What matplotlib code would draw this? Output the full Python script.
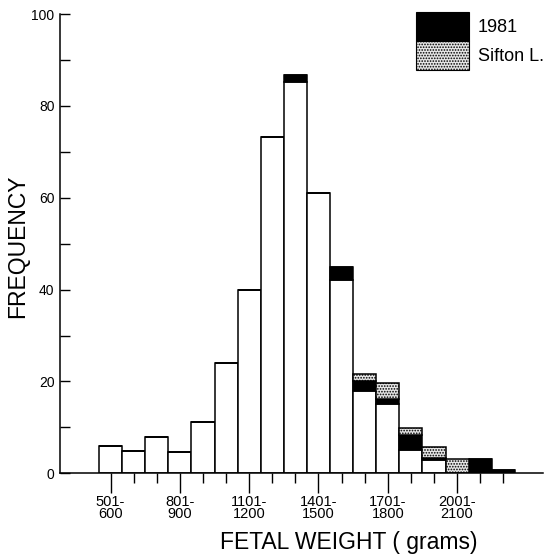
import numpy as np
import matplotlib.pyplot as plt
from matplotlib.patches import Patch

plt.rcParams['font.family'] = ['Liberation Sans', 'DejaVu Sans']
plt.rcParams['hatch.color'] = '#444444'
plt.rcParams['hatch.linewidth'] = 0.8

# weight classes (grams)
bins = ['501-600', '601-700', '701-800', '801-900', '901-1000', '1001-1100',
        '1101-1200', '1201-1300', '1301-1400', '1401-1500', '1501-1600',
        '1601-1700', '1701-1800', '1801-1900', '1901-2000', '2001-2100',
        '2101-2200', '2201-2300']
# stacked frequencies
base = [6, 4.8, 8, 4.6, 11.2, 24, 40, 73.3, 85.1, 61, 42, 18, 15, 5, 3, 0, 0, 0]
y1981 = [0, 0, 0, 0, 0, 0, 0, 0, 1.7, 0, 3, 2.1, 1.2, 3.3, 0.3, 0, 3.2, 0.8]
sifton = [0, 0, 0, 0, 0, 0, 0, 0, 0, 0, 0, 1.5, 3.5, 1.6, 2.5, 3.2, 0, 0]
labelled = ['501-600', '801-900', '1101-1200', '1401-1500', '1701-1800', '2001-2100']

base = np.array(base)
y1981 = np.array(y1981)
sifton = np.array(sifton)
x = np.arange(len(bins)) + 0.5

fig = plt.figure(figsize=(5.59, 5.56), dpi=100)
ax = fig.add_axes([60 / 559, 1 - 473.3 / 556, 483 / 559, 459.3 / 556])

lw = 1.1
ax.bar(x, base, width=1, color='white', edgecolor='black', linewidth=lw)
ax.bar(x, y1981, width=1, bottom=base, color='black', edgecolor='black', linewidth=lw)
ax.bar(x, sifton, width=1, bottom=base + y1981, color='#e6e6e6', edgecolor='black',
       linewidth=lw, hatch='......')

ax.set_xlim(-1.69, 19.22)
ax.set_ylim(0, 100)

for s in ['top', 'right']:
    ax.spines[s].set_visible(False)
ax.spines['left'].set_linewidth(1.1)
ax.spines['bottom'].set_linewidth(1.1)

# y axis
ax.set_yticks(np.arange(0, 101, 20))
ax.set_yticks(np.arange(10, 100, 20), minor=True)
ax.tick_params(axis='y', which='both', direction='in', length=7.5, width=1, labelsize=10, pad=4)

# x axis: ticks at every class, labels on every third
major = [bins.index(b) + 0.5 for b in labelled]
minor = [v for v in x if v not in major]
ax.set_xticks(major)
ax.set_xticklabels([b.replace('-', '-\n') for b in labelled], linespacing=0.85)
ax.set_xticks(minor, minor=True)
ax.tick_params(axis='x', which='major', direction='out', length=14.5, width=1, labelsize=10.5, pad=1)
ax.tick_params(axis='x', which='minor', direction='out', length=7.5, width=1)

fig.text(18 / 559, 1 - 246 / 556, 'FREQUENCY', rotation=90, ha='center', va='center', fontsize=16.5)
fig.text(349 / 559, 1 - 543 / 556, 'FETAL WEIGHT ( grams)', ha='center', va='center', fontsize=16.5)

handles = [Patch(facecolor='black', edgecolor='black', linewidth=0.8),
           Patch(facecolor='#e6e6e6', edgecolor='black', linewidth=0.8, hatch='......')]
fig.legend(handles, ['1981', 'Sifton L.'], loc='upper left',
           bbox_to_anchor=(416 / 559, 1 - 12 / 556), frameon=False, fontsize=13,
           borderpad=0, borderaxespad=0, labelspacing=0, handlelength=2.94,
           handleheight=2.08, handletextpad=0.5)

fig.savefig('out.png', dpi=100)
